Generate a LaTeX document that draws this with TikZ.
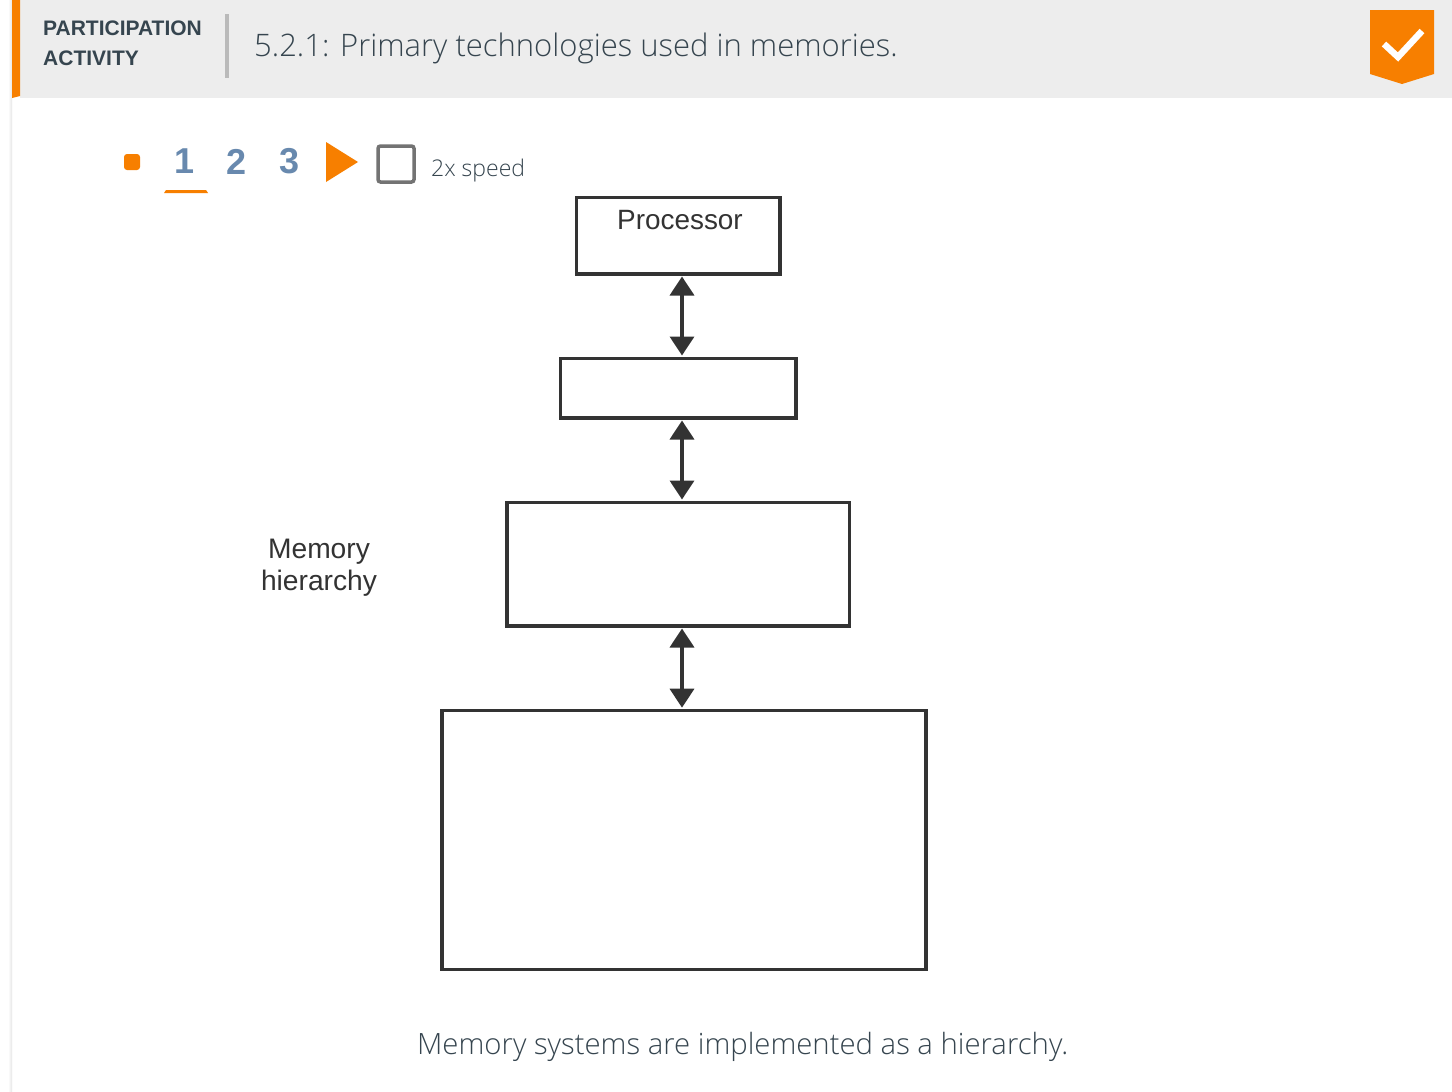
\documentclass[tikz,border=0pt]{standalone}
\usepackage{fontspec}
\setmainfont{Liberation Sans}
\newfontfamily\lightfont{Open Sans Light}
\usetikzlibrary{arrows.meta}
\definecolor{ink}{HTML}{333333}
\definecolor{slate}{HTML}{36454F}
\definecolor{zorange}{HTML}{F77F00}
\definecolor{stepblue}{HTML}{6889AE}
\tikzset{
	memorybox/.style={draw=ink, line width=3.6pt, fill=white, inner sep=0pt},
	link/.style={draw=ink, line width=3.6pt, {Triangle[length=19pt,width=24pt]}-{Triangle[length=19pt,width=24pt]}, shorten <=1pt, shorten >=1pt},
	steplabel/.style={text=stepblue, font=\bfseries\fontsize{36}{36}\selectfont},
	caption/.style={text=slate, font=\lightfont, anchor=base west, inner sep=0pt}
}
\begin{document}
\begin{tikzpicture}[x=1pt, y=-1pt]
	\useasboundingbox (0, 0) rectangle (1452, 1092);
	%%%%% header %%%%%
	\fill[white] (0, 0) rectangle (1452, 1092);
	\shade[left color=white, right color=black!10] (8, 0) rectangle (12, 1092);
	\fill[black!7] (20, 0) rectangle (1452, 98);
	\fill[zorange] (12, 0) -- (20, 0) -- (20, 96) -- (12, 98) -- cycle;
	\node[text=slate, font=\bfseries\fontsize{21}{30}\selectfont, align=left, anchor=north west, inner sep=0pt] (kind) at (43, 21) {PARTICIPATION\\ACTIVITY};
	\fill[black!27] (225, 14) rectangle (228.5, 78);
	\node[caption, font=\lightfont\fontsize{31}{36}\selectfont] (title) at (254, 56) {5.2.1: Primary technologies used in memories.};
	\fill[zorange] (1370, 10) -- (1434, 10) -- (1434, 74) -- (1402, 84) -- (1370, 74) -- cycle;
	\draw[white, line width=6.5pt] (1384, 44) -- (1398, 57) -- (1422, 31);
	%%%%% controls %%%%%
	\fill[zorange, rounded corners=3pt] (124, 154) rectangle (140, 170);
	\node[steplabel] (one) at (185, 161.5) {1};
	\node[steplabel] (two) at (237, 161.5) {2};
	\node[steplabel] (three) at (290, 161.5) {3};
	\fill[zorange] (164, 193) -- (166, 190) -- (206, 190) -- (208, 193) -- cycle;
	\fill[zorange] (326, 142) -- (358, 162) -- (326, 182) -- cycle;
	\draw[black!55, line width=3.5pt, rounded corners=2.5pt] (378, 146) rectangle (414, 182);
	\node[caption, font=\lightfont\fontsize{23}{23}\selectfont] (speed) at (431, 176) {2x speed};
	%%%%% hierarchy %%%%%
	\node[memorybox, minimum width=203.4pt, minimum height=76.4pt] (processor) at (678, 235.5) {};
	\node[memorybox, minimum width=235.4pt, minimum height=59.4pt] (cache) at (678, 388) {};
	\node[memorybox, minimum width=342.4pt, minimum height=123.4pt] (main) at (678.3, 564) {};
	\node[memorybox, minimum width=484pt, minimum height=259pt] (disk) at (684.2, 840) {};
	\coordinate (axis) at (682, 0);
	\draw[link] (axis |- processor.south) -- (axis |- cache.north);
	\draw[link] (axis |- cache.south) -- (axis |- main.north);
	\draw[link] (axis |- main.south) -- (axis |- disk.north);
	\node[text=ink, font=\fontsize{27.9}{28}\selectfont, inner sep=0pt] (cpu) at (680, 220.5) {Processor};
	\node[text=ink, font=\fontsize{28.2}{32}\selectfont, align=center, inner sep=0pt] (level) at (319, 567.5) {Memory\\hierarchy};
	\node[caption, font=\lightfont\fontsize{29.3}{36}\selectfont] (note) at (417, 1054) {Memory systems are implemented as a hierarchy.};
\end{tikzpicture}
\end{document}
